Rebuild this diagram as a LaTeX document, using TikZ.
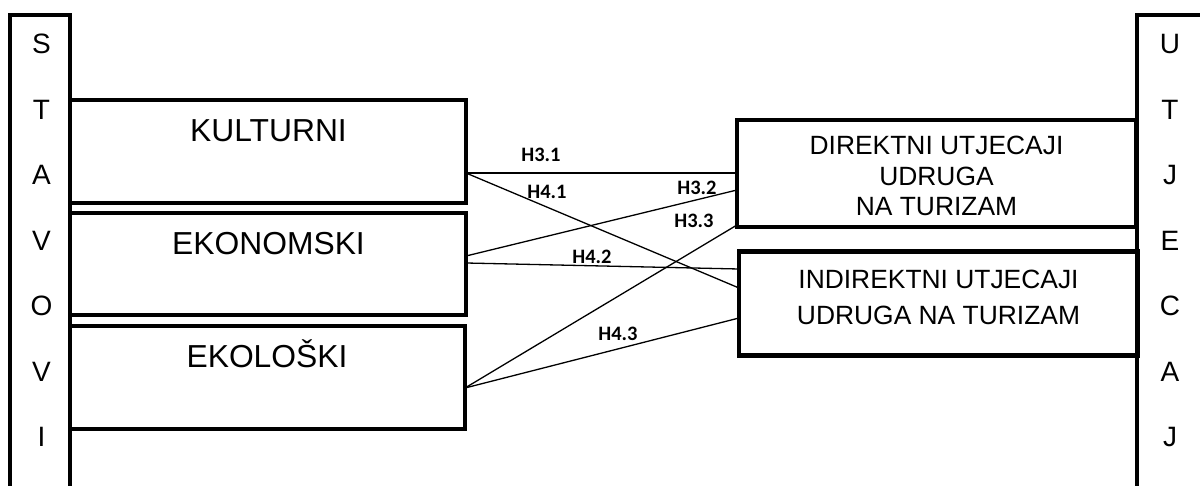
\documentclass[tikz,border=0pt]{standalone}
\usepackage{fontspec}
\setmainfont{Liberation Sans}
\newfontfamily\lblfont{Carlito}
\begin{document}
\begin{tikzpicture}[x=1pt,y=-1pt,
  bar/.style={draw, line width=4.5pt},
  box/.style={draw, line width=4.5pt, inner sep=0pt, outer sep=0pt},
  bigtxt/.style={inner sep=0pt, anchor=base, font=\fontsize{31.8}{37}\selectfont},
  medtxt/.style={inner sep=0pt, align=center},
  side/.style={inner sep=0pt, font=\fontsize{28}{32}\selectfont},
  conn/.style={draw, line width=1.3pt},
  hlbl/.style={inner sep=0pt, font=\lblfont\bfseries\fontsize{20.5}{24}\selectfont}]
\useasboundingbox (0,0) rectangle (1200,486);
% side bars
\draw[bar] (10,492) -- (10,15) -- (70,15) -- (70,492);
\draw[bar] (1137,492) -- (1137,15) -- (1206,15);
% left boxes
\node[box, minimum width=396pt, minimum height=103pt] (k) at (268,151.5) {};
\node[box, minimum width=396pt, minimum height=102pt] (e) at (268,264) {};
\node[box, minimum width=395pt, minimum height=103pt] (o) at (267.5,377.5) {};
% right boxes
\node[box, minimum width=399pt, minimum height=107pt] (d) at (936.5,173.5) {};
\node[box, minimum width=399pt, minimum height=104pt] (i) at (938.5,303.5) {};
% box texts
\node[bigtxt] (kt) at (268.5,142) {KULTURNI};
\node[bigtxt] (et) at (268.5,255) {EKONOMSKI};
\node[bigtxt] (ot) at (267,367) {EKOLOŠKI};
\node[medtxt, font=\fontsize{26.4}{30.5}\selectfont] (dt) at (936.5,176) {DIREKTNI UTJECAJI\\UDRUGA\\NA TURIZAM};
\node[medtxt, font=\fontsize{26.4}{36}\selectfont] (it) at (938.5,297) {INDIREKTNI UTJECAJI\\UDRUGA NA TURIZAM};
% side letters
\node[side] (s1) at (41.5,44) {S};
\node[side] (s2) at (41.5,109.5) {T};
\node[side] (s3) at (41.5,175) {A};
\node[side] (s4) at (41.5,240.5) {V};
\node[side] (s5) at (41.5,306) {O};
\node[side] (s6) at (41.5,371.5) {V};
\node[side] (s7) at (41.5,437) {I};
\node[side] (u1) at (1170,44) {U};
\node[side] (u2) at (1170,109.5) {T};
\node[side] (u3) at (1170,175) {J};
\node[side] (u4) at (1170,240.5) {E};
\node[side] (u5) at (1170,306) {C};
\node[side] (u6) at (1170,371.5) {A};
\node[side] (u7) at (1170,437) {J};
% connectors
\draw[conn] (k.east |- 0,173) -- (d.west |- 0,173);
\draw[conn] (k.east |- 0,173) -- (i.west |- 0,288);
\draw[conn] (e.east |- 0,256) -- (d.west |- 0,190);
\draw[conn] (e.east |- 0,263) -- (i.west |- 0,269);
\draw[conn] (o.east |- 0,388) -- (d.west |- 0,225);
\draw[conn] (o.east |- 0,388) -- (i.west |- 0,318);
% hypothesis labels
\node[hlbl] (h31) at (541,155) {H3.1};
\node[hlbl] (h41) at (547,192) {H4.1};
\node[hlbl] (h32) at (697,188) {H3.2};
\node[hlbl] (h33) at (694,221) {H3.3};
\node[hlbl] (h42) at (592,257) {H4.2};
\node[hlbl] (h43) at (618,334) {H4.3};
\end{tikzpicture}
\end{document}
